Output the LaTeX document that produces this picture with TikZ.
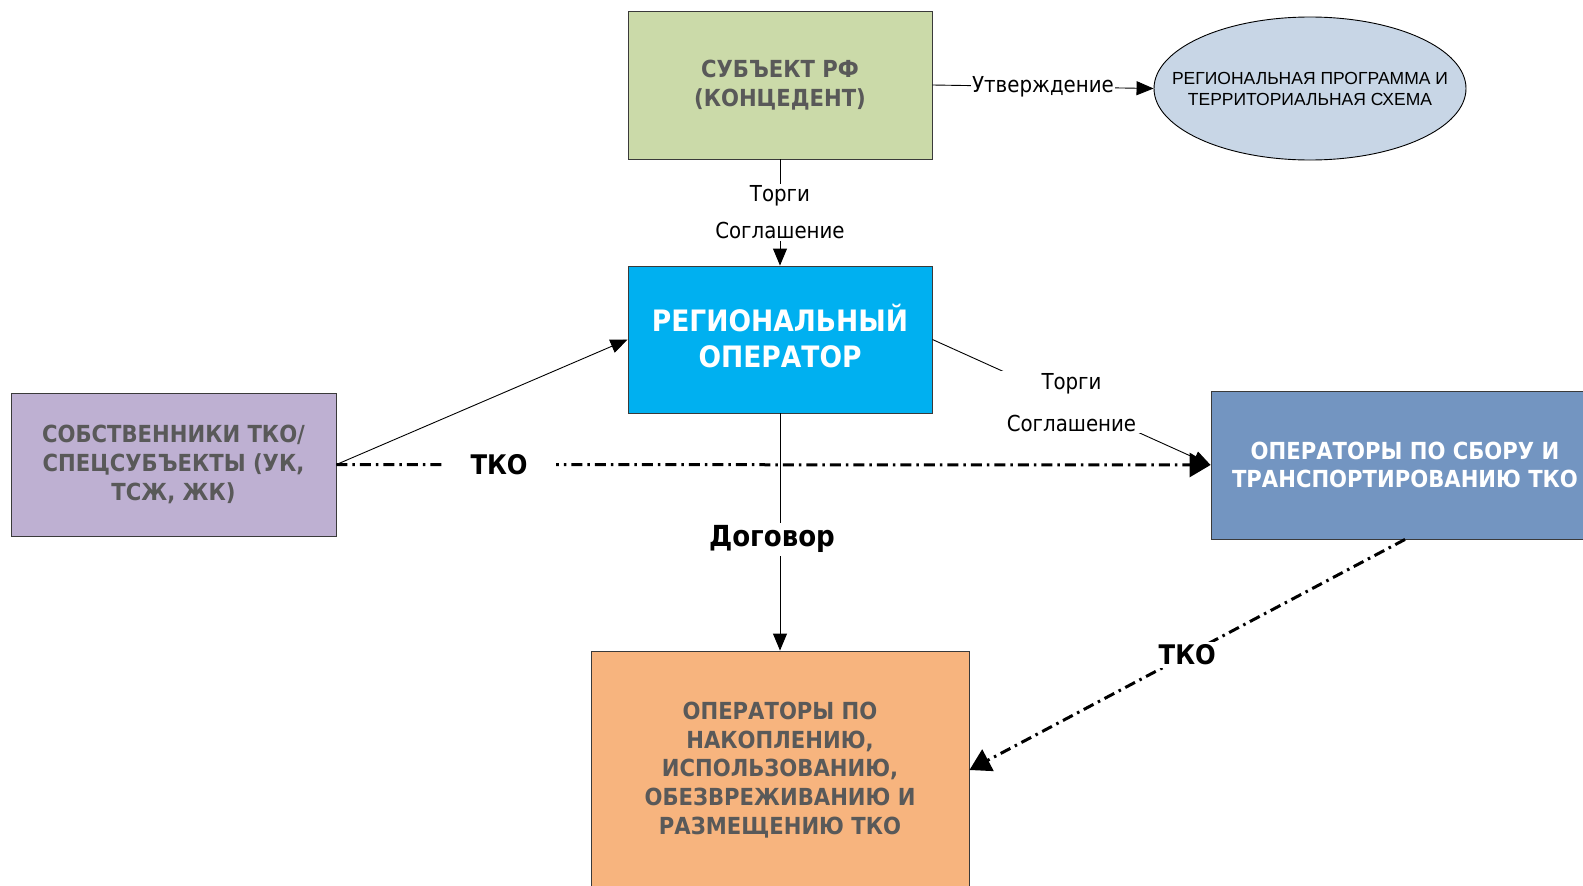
\documentclass[tikz,border=0pt]{standalone}
\usepackage{fontspec}
\setmainfont{DejaVu Sans Condensed}
\newfontfamily\ellfont{Liberation Sans}
\usetikzlibrary{arrows.meta,shapes.geometric}
\definecolor{cgreen}{HTML}{CBDAA9}
\definecolor{cblue}{HTML}{00B0F0}
\definecolor{cpurple}{HTML}{BEB0D2}
\definecolor{csteel}{HTML}{7395C1}
\definecolor{corange}{HTML}{F7B47E}
\definecolor{cell}{HTML}{C8D6E6}
\definecolor{ctext}{HTML}{595959}
\definecolor{cborder}{HTML}{3A3A3A}
\tikzset{
  box/.style={draw=cborder, line width=0.9pt, rectangle, align=center, inner sep=0pt,
    font=\fontsize{23.5}{28.8}\selectfont\bfseries, text=ctext},
  thin/.style={draw=black, line width=0.9pt, -{Triangle[length=17pt,width=14pt]}},
  dashdot/.style={draw=black, line width=3pt, dash pattern=on 11pt off 5pt on 2.5pt off 5pt,
    -{Triangle[length=21pt,width=24pt]}},
  lbl/.style={fill=white, font=\fontsize{22}{25}\selectfont, inner sep=2pt},
  blbl/.style={fill=white, font=\fontsize{27}{30}\selectfont\bfseries, inner sep=3pt},
}
\begin{document}
\begin{tikzpicture}[x=1pt,y=-1pt]
\useasboundingbox (0,0) rectangle (1583,886);
\fill[white] (0,0) rectangle (1583,886);
\node[box, fill=cgreen, minimum width=304pt, minimum height=148pt] (subj) at (780,85)
  {СУБЪЕКТ РФ\\(КОНЦЕДЕНТ)};
\node[box, fill=cblue, minimum width=304pt, minimum height=147pt] (regop) at (780,339.5) {};
\node[text=white, align=center, inner sep=0pt,
  font=\fontsize{29.5}{36}\selectfont\bfseries] (regoptxt) at (780,336)
  {РЕГИОНАЛЬНЫЙ\\ОПЕРАТОР};
\node[ellipse, draw=black, line width=0.9pt, fill=cell, minimum width=312pt, minimum height=143pt,
  inner sep=0pt] (ell) at (1310,88.5) {};
\node[align=center, inner sep=0pt, font=\ellfont\fontsize{17.5}{21}\selectfont] (elltxt) at (1310,89)
  {РЕГИОНАЛЬНАЯ ПРОГРАММА И\\ТЕРРИТОРИАЛЬНАЯ СХЕМА};
\node[box, fill=cpurple, minimum width=325pt, minimum height=143pt] (own) at (173.5,464.5)
  {СОБСТВЕННИКИ ТКО/\\СПЕЦСУБЪЕКТЫ (УК,\\ТСЖ, ЖК)};
\node[box, fill=csteel, text=white, minimum width=388pt, minimum height=148pt] (coll) at (1405,465)
  {ОПЕРАТОРЫ ПО СБОРУ И\\ТРАНСПОРТИРОВАНИЮ ТКО};
\node[box, fill=corange, minimum width=378pt, minimum height=238pt] (proc) at (780,770)
  {ОПЕРАТОРЫ ПО\\НАКОПЛЕНИЮ,\\ИСПОЛЬЗОВАНИЮ,\\ОБЕЗВРЕЖИВАНИЮ И\\РАЗМЕЩЕНИЮ ТКО};

% connectors
\draw[thin] (subj.south) -- node[lbl, align=center, font=\fontsize{22}{37}\selectfont] {Торги\\Соглашение} (regop.north);
\draw[thin] (subj.east) -- node[lbl, inner xsep=1pt] {Утверждение} (ell.west);
\draw[thin] (own.east) -- (regop.west);
\draw[thin] (regop.south) -- node[blbl, pos=0.53, xshift=-8pt, font=\fontsize{29}{32}\selectfont\bfseries] {Договор} (proc.north);
\draw[thin] (regop.east) -- node[lbl, align=center, font=\fontsize{22}{42}\selectfont, inner xsep=6pt] {Торги\\Соглашение} (coll.west);
\draw[dashdot] (own.east) -- node[blbl, pos=0.186, inner xsep=28pt] {ТКО} (coll.west);
\draw[dashdot] (coll.south) -- node[blbl, inner xsep=4pt] {ТКО} (proc.east);
\end{tikzpicture}
\end{document}
